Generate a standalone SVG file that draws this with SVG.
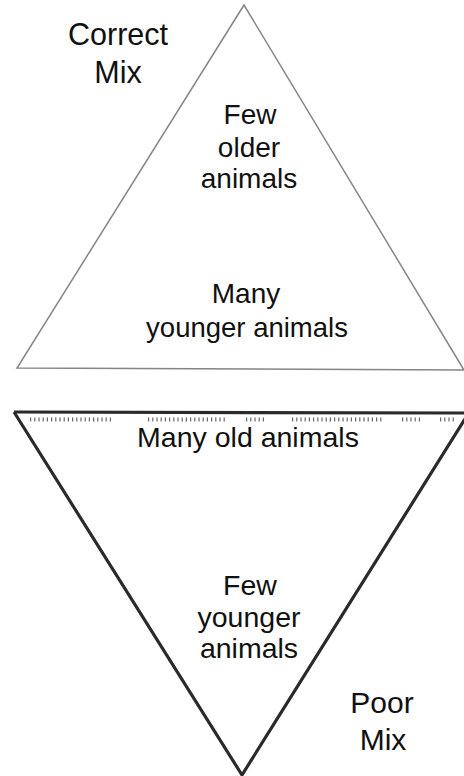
<svg xmlns="http://www.w3.org/2000/svg" width="464" height="776" viewBox="0 0 464 776">
<style>
text{font-family:"Liberation Sans",Arial,sans-serif;font-size:28px;fill:#111;text-anchor:middle}
text.big{font-size:30.5px}
text.mid{font-size:28.5px}
text.sm{font-size:27.5px}
text.poor{font-size:30px}
.thin{fill:none;stroke:#858585;stroke-width:1.5;stroke-linejoin:miter}
.thick{fill:none;stroke:#2a2a2a;stroke-width:3.2;stroke-linejoin:miter}
.tick{fill:none;stroke:#666;stroke-width:4;stroke-dasharray:1.2 3}
</style>
<rect width="464" height="776" fill="#fff"/>
<g id="connectors"></g>
<g id="correct-mix-triangle">
<polygon class="thin" points="244,5 17,368 464,370"/>
</g>
<g id="poor-mix-triangle">
<line class="thick" x1="14" y1="412" x2="464" y2="413"/>
<polyline class="thick" points="14,412 242,775 470,411"/>
<path class="tick" d="M30,419.5H112M148,419.5H226M246,419.5H266M292,419.5H382M402,419.5H422M440,419.5H456"/>
</g>
<g id="label-correct-mix">
<text class="big" x="118" y="45">Correct</text>
<text class="big" x="118" y="83">Mix</text>
</g>
<g id="label-upper-top">
<text x="250" y="124">Few</text>
<text x="249" y="157">older</text>
<text x="249" y="188">animals</text>
</g>
<g id="label-upper-bottom">
<text x="246" y="303">Many</text>
<text class="sm" x="247" y="337">younger animals</text>
</g>
<g id="label-lower-top">
<text class="mid" x="248" y="447">Many old animals</text>
</g>
<g id="label-lower-bottom">
<text class="mid" x="250" y="595">Few</text>
<text class="mid" x="249" y="627">younger</text>
<text class="mid" x="249" y="658">animals</text>
</g>
<g id="label-poor-mix">
<text class="poor" x="382" y="713">Poor</text>
<text class="poor" x="383" y="750">Mix</text>
</g>
</svg>
